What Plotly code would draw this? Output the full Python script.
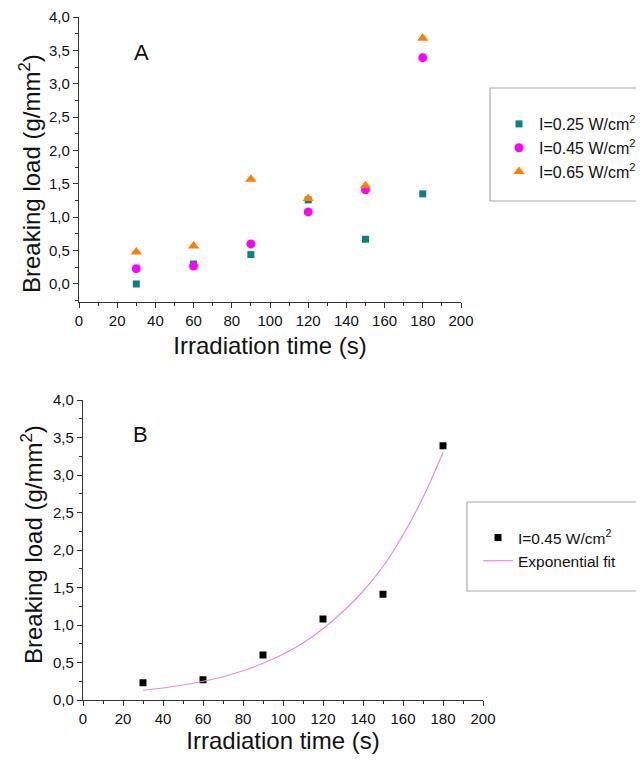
import plotly.graph_objects as go

# ---- data ----
time_s = [30, 60, 90, 120, 150, 180]
load_025 = [0.00, 0.30, 0.44, 1.26, 0.67, 1.35]
load_045 = [0.23, 0.27, 0.60, 1.08, 1.41, 3.39]
load_065 = [0.48, 0.57, 1.57, 1.28, 1.47, 3.68]

fit_time = [30, 40, 50, 60, 70, 80, 90, 100, 110, 120, 130, 140, 150, 160, 170, 180]
fit_load = [0.13, 0.16, 0.20, 0.25, 0.31, 0.39, 0.49, 0.61, 0.76, 0.95, 1.18, 1.45, 1.78, 2.20, 2.70, 3.30]

x_ticks = [0, 20, 40, 60, 80, 100, 120, 140, 160, 180, 200]
y_ticks = [0.0, 0.5, 1.0, 1.5, 2.0, 2.5, 3.0, 3.5, 4.0]

OFF = 8  # page body margin
W, H = 644 - OFF, 760 - OFF
FONT = "Arial, Liberation Sans, sans-serif"
Y_TITLE = "Breaking load (g/mm<sup>2</sup>)"
X_TITLE = "Irradiation time (s)"

def px_x(p):
    return (p - OFF) / W

def px_y(p):
    return 1 - (p - OFF) / H

fig = go.Figure()

fig.add_trace(go.Scatter(x=time_s, y=load_025, mode="markers", name="I=0.25 W/cm<sup>2</sup>",
                         marker=dict(symbol="square", size=7, color="#0b8080"),
                         xaxis="x", yaxis="y", legend="legend"))
fig.add_trace(go.Scatter(x=time_s, y=load_045, mode="markers", name="I=0.45 W/cm<sup>2</sup>",
                         marker=dict(symbol="circle", size=9, color="#ff00ff"),
                         xaxis="x", yaxis="y", legend="legend"))
fig.add_trace(go.Scatter(x=time_s, y=load_065, mode="markers", name="I=0.65 W/cm<sup>2</sup>",
                         marker=dict(symbol="triangle-up", size=10, color="#ff8000"),
                         xaxis="x", yaxis="y", legend="legend"))

fig.add_trace(go.Scatter(x=time_s, y=load_045, mode="markers", name="I=0.45 W/cm<sup>2</sup>",
                         marker=dict(symbol="square", size=7, color="#000000"),
                         xaxis="x2", yaxis="y2", legend="legend2"))
fig.add_trace(go.Scatter(x=fit_time, y=fit_load, mode="lines", name="Exponential fit",
                         line=dict(color="#e58ae5", width=1.2, shape="spline"),
                         xaxis="x2", yaxis="y2", legend="legend2"))

axis_common = dict(
    showline=True, linecolor="#333333", linewidth=1.2,
    ticks="outside", ticklen=5, tickwidth=1, tickcolor="#333333",
    showgrid=False, zeroline=False, automargin=False,
    tickfont=dict(family=FONT, size=15, color="#111111"),
    minor=dict(ticks="outside", ticklen=3, tickcolor="#333333", showgrid=False),
)

fig.update_layout(
    width=W, height=H,
    margin=dict(l=0, r=0, t=0, b=0, autoexpand=False),
    paper_bgcolor="white", plot_bgcolor="white",
    separators=",.",
    font=dict(family=FONT, color="#111111"),
    xaxis=dict(axis_common, domain=[px_x(79), px_x(461)], range=[0, 200], tickvals=x_ticks,
               minor=dict(axis_common["minor"], dtick=10), anchor="y",
               title=dict(text=X_TITLE, font=dict(size=24), standoff=9)),
    yaxis=dict(axis_common, domain=[px_y(302), px_y(17)], range=[-0.27, 4.0], tickvals=y_ticks,
               tickformat=".1f", minor=dict(axis_common["minor"], dtick=0.25), anchor="x"),
    xaxis2=dict(axis_common, domain=[px_x(83), px_x(483)], range=[0, 200], tickvals=x_ticks,
                minor=dict(axis_common["minor"], dtick=10), anchor="y2",
                title=dict(text=X_TITLE, font=dict(size=24), standoff=3)),
    yaxis2=dict(axis_common, domain=[px_y(700), px_y(400)], range=[0, 4.0], tickvals=y_ticks,
                tickformat=".1f", minor=dict(axis_common["minor"], dtick=0.25), anchor="x2"),
    legend=dict(x=px_x(499), y=px_y(107), xanchor="left", yanchor="top",
                bgcolor="rgba(0,0,0,0)", borderwidth=0,
                font=dict(family=FONT, size=16, color="#111111"), tracegroupgap=0),
    legend2=dict(x=px_x(478), y=px_y(521), xanchor="left", yanchor="top",
                 bgcolor="rgba(0,0,0,0)", borderwidth=0,
                 font=dict(family=FONT, size=15.5, color="#111111"), tracegroupgap=0),
    showlegend=True,
    shapes=[
        dict(type="rect", xref="paper", yref="paper", x0=px_x(490), x1=px_x(660),
             y0=px_y(201), y1=px_y(88), line=dict(color="#aaaaaa", width=1.2)),
        dict(type="rect", xref="paper", yref="paper", x0=px_x(467), x1=px_x(637),
             y0=px_y(591), y1=px_y(502), line=dict(color="#aaaaaa", width=1.2)),
    ],
    annotations=[
        dict(text="A", xref="paper", yref="paper", x=px_x(141), y=px_y(52), showarrow=False,
             xanchor="center", yanchor="middle",
             font=dict(family=FONT, size=22, color="#111111")),
        dict(text="B", xref="paper", yref="paper", x=px_x(140), y=px_y(434), showarrow=False,
             xanchor="center", yanchor="middle",
             font=dict(family=FONT, size=22, color="#111111")),
        dict(text=Y_TITLE, xref="paper", yref="paper", x=px_x(30), y=px_y(174), showarrow=False,
             xanchor="center", yanchor="middle", textangle=-90,
             font=dict(family=FONT, size=24, color="#111111")),
        dict(text=Y_TITLE, xref="paper", yref="paper", x=px_x(32), y=px_y(545), showarrow=False,
             xanchor="center", yanchor="middle", textangle=-90,
             font=dict(family=FONT, size=24, color="#111111")),
    ],
)

fig.write_html("out.html")
